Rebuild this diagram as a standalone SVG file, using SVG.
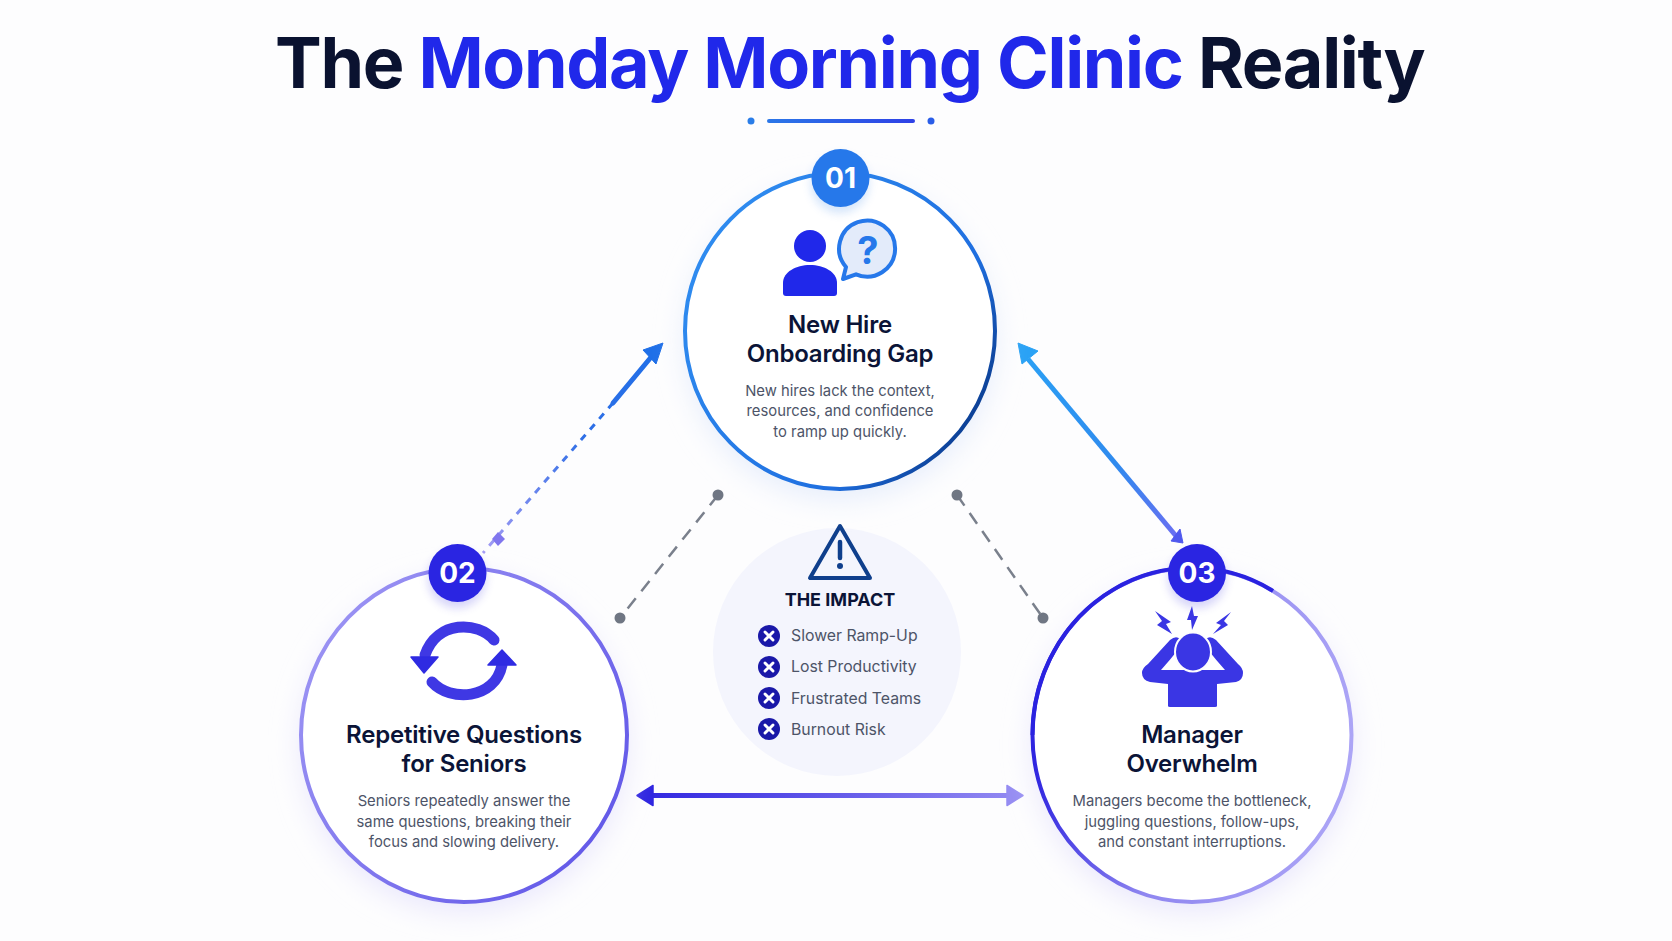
<svg xmlns="http://www.w3.org/2000/svg" width="1672" height="941" viewBox="0 0 1672 941">
<style>
text{font-family:Inter,"Liberation Sans",sans-serif}
.t{font-size:70px;font-weight:700;letter-spacing:-1.3px}
.h{font-size:24px;font-weight:600;fill:#0b1437;text-anchor:middle;letter-spacing:-.2px}
.d{font-size:14.8px;fill:#4d5468;text-anchor:middle}
.b{font-size:28px;font-weight:700;fill:#fff;text-anchor:middle}
.i{font-size:15.8px;fill:#4d5468}
.ix{fill:#1a18a8}
.xx{stroke:#fff;stroke-width:3;stroke-linecap:round}
.g{stroke:#7a808c;stroke-width:2.500;stroke-dasharray:13 9;fill:none}
.gd{fill:#6f7683}
</style>
<defs>
<linearGradient id="c1" gradientUnits="userSpaceOnUse" x1="700" y1="240" x2="985" y2="420"><stop offset="0" stop-color="#2f8cf0"/><stop offset=".72" stop-color="#1f6fe0"/><stop offset="1" stop-color="#0a3a8c"/></linearGradient>
<linearGradient id="c2" gradientUnits="userSpaceOnUse" x1="320" y1="640" x2="620" y2="830"><stop offset="0" stop-color="#9a92f3"/><stop offset="1" stop-color="#6258e8"/></linearGradient>
<linearGradient id="c3" gradientUnits="userSpaceOnUse" x1="1040" y1="720" x2="1350" y2="760"><stop offset="0" stop-color="#2f25e0"/><stop offset=".4" stop-color="#8f86f0"/><stop offset="1" stop-color="#aca5f6"/></linearGradient>
<linearGradient id="a1" gradientUnits="userSpaceOnUse" x1="663" y1="343" x2="483" y2="553"><stop offset="0" stop-color="#1f6fe8"/><stop offset=".45" stop-color="#2f6fe6"/><stop offset="1" stop-color="#a59cf4"/></linearGradient>
<linearGradient id="a2" gradientUnits="userSpaceOnUse" x1="1018" y1="343" x2="1183" y2="543"><stop offset="0" stop-color="#2aa2f5"/><stop offset=".6" stop-color="#2f8aee"/><stop offset="1" stop-color="#6f6cf2"/></linearGradient>
<linearGradient id="a3" gradientUnits="userSpaceOnUse" x1="637" y1="795" x2="1024" y2="795"><stop offset="0" stop-color="#2f25e0"/><stop offset="1" stop-color="#958cf2"/></linearGradient>
<linearGradient id="r" gradientUnits="userSpaceOnUse" x1="750" y1="0" x2="930" y2="0"><stop offset="0" stop-color="#2a7de8"/><stop offset="1" stop-color="#2f3be6"/></linearGradient>
<filter id="sh" x="-30%" y="-30%" width="160%" height="160%"><feGaussianBlur stdDeviation="14"/></filter>
<filter id="sb" x="-50%" y="-50%" width="200%" height="200%"><feGaussianBlur stdDeviation="5"/></filter>
</defs>
<rect width="1672" height="941" fill="#fdfdfe"/>
<g id="title">
<text class="t" x="275" y="88" fill="#0a1230">The <tspan fill="#2028ea">Monday Morning Clinic</tspan> Reality</text>
<path d="M769 121H913" stroke="url(#r)" stroke-width="4" stroke-linecap="round"/>
<circle cx="751" cy="121" r="3.500" fill="#2a7de8"/><circle cx="931" cy="121" r="3.500" fill="#2a5de8"/>
</g>
<g id="connectors" fill="none">
<path d="M613 403L652 356" stroke="url(#a1)" stroke-width="5" stroke-linecap="round"/>
<path d="M613 403L483 553" stroke="url(#a1)" stroke-width="3" stroke-dasharray="7 7"/>
<path d="M663 343L643 350L656 364Z" fill="#1f6fe8" stroke="#1f6fe8" stroke-width="1" stroke-linejoin="round"/>
<path d="M498 532L505 539L498 546L492 539Z" fill="#8076ee"/>
<path d="M1028 359L1176 536" stroke="url(#a2)" stroke-width="5"/>
<path d="M1018 343L1038 351L1022 364Z" fill="#2aa2f5" stroke="#2aa2f5" stroke-width="1" stroke-linejoin="round"/>
<path d="M1183 543L1171 541L1180 529Z" fill="#4f58ee" stroke="#4f58ee" stroke-width="1" stroke-linejoin="round"/>
<path d="M650 795.500H1010" stroke="url(#a3)" stroke-width="5"/>
<path d="M637 795.500L653 785.500V805.500Z" fill="#2f25e0" stroke="#2f25e0" stroke-width="1.500" stroke-linejoin="round"/>
<path d="M1023 795.500L1007 785.500V805.500Z" fill="#958cf2" stroke="#958cf2" stroke-width="1.500" stroke-linejoin="round"/>
<path class="g" d="M718 495L620 618"/><circle class="gd" cx="718" cy="495" r="5.500"/><circle class="gd" cx="620" cy="618" r="5.500"/>
<path class="g" d="M957 495L1043 618"/><circle class="gd" cx="957" cy="495" r="5.500"/><circle class="gd" cx="1043" cy="618" r="5.500"/>
</g>
<g id="impact">
<circle cx="837" cy="652" r="124" fill="#f4f5fd"/>
<path d="M840 526L810 578H870Z" fill="none" stroke="#0f3f8c" stroke-width="4" stroke-linejoin="round"/>
<path d="M840 542V558" stroke="#0f3f8c" stroke-width="4.500" stroke-linecap="round"/><circle cx="840" cy="566" r="3" fill="#0f3f8c"/>
<text x="840" y="606" font-weight="700" fill="#0b1437" text-anchor="middle" style="font-size:18px">THE IMPACT</text>
<g id="impact-items">
<circle class="ix" cx="769" cy="636" r="11"/><path class="xx" d="M765 632l8 8m0-8l-8 8"/><text class="i" x="791" y="641">Slower Ramp-Up</text>
<circle class="ix" cx="769" cy="667" r="11"/><path class="xx" d="M765 663l8 8m0-8l-8 8"/><text class="i" x="791" y="672">Lost Productivity</text>
<circle class="ix" cx="769" cy="698" r="11"/><path class="xx" d="M765 694l8 8m0-8l-8 8"/><text class="i" x="791" y="704">Frustrated Teams</text>
<circle class="ix" cx="769" cy="729" r="11"/><path class="xx" d="M765 725l8 8m0-8l-8 8"/><text class="i" x="791" y="735">Burnout Risk</text>
</g>
</g>
<g id="node1">
<ellipse cx="840" cy="341" rx="155" ry="158" fill="#e6edfb" filter="url(#sh)"/>
<ellipse cx="840" cy="331" rx="155" ry="158" fill="#fff" stroke="url(#c1)" stroke-width="4"/>
<circle cx="840" cy="184" r="29" fill="#2a7de8" opacity=".2" filter="url(#sb)"/>
<circle cx="840.500" cy="178" r="29" fill="#2678ea"/>
<text class="b" x="840.500" y="188">01</text>
<circle cx="810" cy="246" r="16" fill="#2028ea"/>
<path d="M783 293V283C783 272 796 265 810 265S837 272 837 283V293Q837 296 834 296H786Q783 296 783 293Z" fill="#2028ea"/>
<path d="M843 279L846 267A28 28 0 1 1 856 274.300Z" fill="#e3ebfa" stroke="#2678ea" stroke-width="4" stroke-linejoin="round"/>
<text x="868" y="264" font-weight="700" fill="#2678ea" text-anchor="middle" style="font-size:38px">?</text>
<text class="h" x="840" y="333">New Hire</text>
<text class="h" x="840" y="362">Onboarding Gap</text>
<text class="d" x="840" y="396">New hires lack the context,</text>
<text class="d" x="840" y="416">resources, and confidence</text>
<text class="d" x="840" y="437">to ramp up quickly.</text>
</g>
<g id="node2">
<ellipse cx="464" cy="745" rx="163" ry="167" fill="#e9e7fc" filter="url(#sh)"/>
<ellipse cx="464" cy="735" rx="163" ry="167" fill="#fff" stroke="url(#c2)" stroke-width="4"/>
<circle cx="457" cy="579" r="29" fill="#2f25e0" opacity=".2" filter="url(#sb)"/>
<circle cx="457.500" cy="573" r="29" fill="#2a25e2"/>
<text class="b" x="457.500" y="583">02</text>
<g fill="none" stroke="#3f38e4" stroke-width="11" stroke-linecap="round">
<path d="M494 640C478 621 437 620 425 655"/>
<path d="M432 682C450 702 495 700 502 665"/>
</g>
<path d="M411 657H438L424 673Z" fill="#2f2be2" stroke="#2f2be2" stroke-width="1.500" stroke-linejoin="round"/>
<path d="M488 665H516L502 650Z" fill="#2f2be2" stroke="#2f2be2" stroke-width="1.500" stroke-linejoin="round"/>
<text class="h" x="464" y="743">Repetitive Questions</text>
<text class="h" x="464" y="772">for Seniors</text>
<text class="d" x="464" y="806">Seniors repeatedly answer the</text>
<text class="d" x="464" y="827">same questions, breaking their</text>
<text class="d" x="464" y="847">focus and slowing delivery.</text>
</g>
<g id="node3">
<ellipse cx="1192" cy="745" rx="159.500" ry="167" fill="#e9e7fc" filter="url(#sh)"/>
<ellipse cx="1192" cy="735" rx="159.500" ry="167" fill="#fff" stroke="url(#c3)" stroke-width="4"/>
<path d="M1032.500 735A159.500 167 0 0 1 1273 591" fill="none" stroke="#2a22e0" stroke-width="4"/>
<circle cx="1197" cy="579" r="29" fill="#2f25e0" opacity=".2" filter="url(#sb)"/>
<circle cx="1197" cy="573" r="29" fill="#2a25e2"/>
<text class="b" x="1197" y="583">03</text>
<g fill="#3a36e4">
<path d="M1168 706V684L1150 682Q1142 680 1142 673Q1142 668 1148 664L1170 640Q1176 635 1180 639L1177 651Q1170 660 1161 670H1225Q1216 660 1209 651L1206 639Q1210 635 1216 640L1238 664Q1243 668 1243 673Q1243 680 1236 682L1217 684V706Q1217 707 1215 707H1170Q1168 707 1168 706Z"/>
<ellipse cx="1193" cy="652" rx="18" ry="19.500" stroke="#fdfdfe" stroke-width="2"/>
<path d="M1155 611L1171 622L1166 624L1172 634L1157 625L1162 621Z"/>
<path d="M1192 606L1187 620L1191 620L1192 630L1198 616L1194 616Z"/>
<path d="M1231 612L1216 623L1221 625L1213 634L1228 625L1224 621Z"/>
</g>
<text class="h" x="1192" y="743">Manager</text>
<text class="h" x="1192" y="772">Overwhelm</text>
<text class="d" x="1192" y="806">Managers become the bottleneck,</text>
<text class="d" x="1192" y="827">juggling questions, follow-ups,</text>
<text class="d" x="1192" y="847">and constant interruptions.</text>
</g>
</svg>
